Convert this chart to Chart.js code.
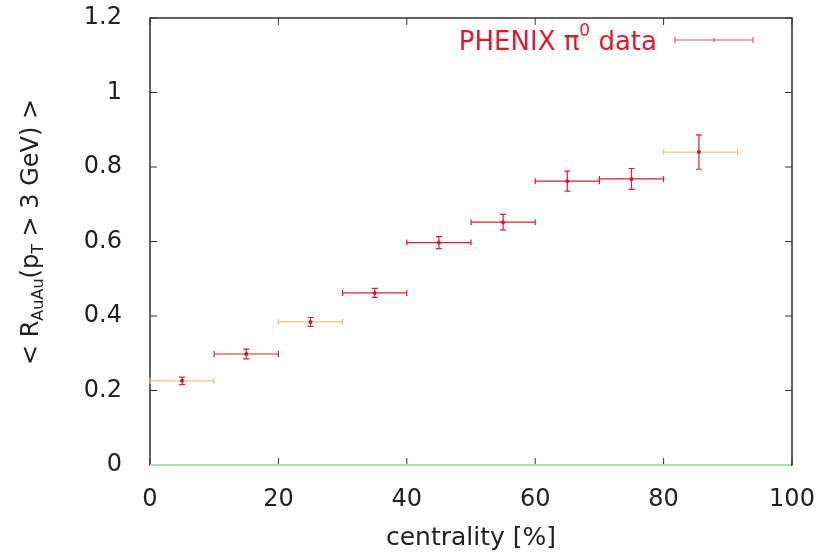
<!DOCTYPE html>
<html>
<head>
<meta charset="utf-8">
<script src="https://cdn.jsdelivr.net/npm/chart.js@4"></script>
<style>
  html, body { margin: 0; padding: 0; background: #fff; }
  #wrap { width: 820px; height: 555px; }
</style>
</head>
<body>
<div id="wrap"><canvas id="myChart" width="820" height="555"></canvas></div>
<script>
// centrality bins [%] and PHENIX pi0 <R_AuAu(pT > 3 GeV)>
const centrality = [5, 15, 25, 35, 45, 55, 65, 75, 85.5];
const binLow = [0, 10, 20, 30, 40, 50, 60, 70, 80];
const binHigh = [10, 20, 30, 40, 50, 60, 70, 80, 91.5];
const raa = [0.226, 0.298, 0.384, 0.462, 0.597, 0.652, 0.762, 0.768, 0.840];
const raaErr = [0.010, 0.013, 0.012, 0.012, 0.016, 0.021, 0.027, 0.028, 0.046];
const xTicks = [0, 20, 40, 60, 80, 100];
const yTicks = [0, 0.2, 0.4, 0.6, 0.8, 1, 1.2];

const FONT = "'DejaVu Sans', sans-serif";
const red = 'rgb(222, 30, 50)';
// horizontal bar colours (some bins look paler in the picture)
const hColors = ['rgb(245,190,140)', red, 'rgb(245,190,120)', red, red, red, red, red, 'rgb(245,195,130)'];

const points = centrality.map(function (c, i) {
  return { x: c, y: raa[i], xMin: binLow[i], xMax: binHigh[i], yMin: raa[i] - raaErr[i], yMax: raa[i] + raaErr[i] };
});

// error bars, frame, inner ticks, zero line
const framePlugin = {
  id: 'frame',
  beforeDatasetsDraw(chart) {
    const ctx = chart.ctx, xs = chart.scales.x, ys = chart.scales.y;
    const a = chart.chartArea;
    ctx.save();
    // frame
    ctx.strokeStyle = '#333';
    ctx.lineWidth = 1.5;
    ctx.strokeRect(a.left, a.top, a.right - a.left, a.bottom - a.top);
    // inner ticks
    ctx.lineWidth = 1;
    xTicks.forEach(function (v) {
      const px = xs.getPixelForValue(v);
      ctx.beginPath();
      ctx.moveTo(px, a.bottom); ctx.lineTo(px, a.bottom - 7);
      ctx.moveTo(px, a.top); ctx.lineTo(px, a.top + 7);
      ctx.stroke();
    });
    yTicks.forEach(function (v) {
      const py = ys.getPixelForValue(v);
      ctx.beginPath();
      ctx.moveTo(a.left, py); ctx.lineTo(a.left + 7, py);
      ctx.moveTo(a.right, py); ctx.lineTo(a.right - 7, py);
      ctx.stroke();
    });
    // zero line
    ctx.strokeStyle = 'rgb(170, 225, 170)';
    ctx.lineWidth = 2;
    ctx.beginPath();
    ctx.moveTo(a.left, ys.getPixelForValue(0));
    ctx.lineTo(a.right - 1, ys.getPixelForValue(0));
    ctx.stroke();

    // error bars
    ctx.lineWidth = 1.2;
    points.forEach(function (p, i) {
      const x0 = xs.getPixelForValue(p.xMin), x1 = xs.getPixelForValue(p.xMax);
      const xc = xs.getPixelForValue(p.x), yc = ys.getPixelForValue(p.y);
      const y0 = ys.getPixelForValue(p.yMin), y1 = ys.getPixelForValue(p.yMax);
      ctx.strokeStyle = hColors[i];
      ctx.beginPath();
      ctx.moveTo(x0, yc); ctx.lineTo(x1, yc);
      ctx.moveTo(x0, yc - 3); ctx.lineTo(x0, yc + 3);
      ctx.moveTo(x1, yc - 3); ctx.lineTo(x1, yc + 3);
      ctx.stroke();
      ctx.strokeStyle = red;
      ctx.beginPath();
      ctx.moveTo(xc, y0); ctx.lineTo(xc, y1);
      ctx.moveTo(xc - 3, y0); ctx.lineTo(xc + 3, y0);
      ctx.moveTo(xc - 3, y1); ctx.lineTo(xc + 3, y1);
      ctx.stroke();
    });
    ctx.restore();
  },
  afterDraw(chart) {
    const ctx = chart.ctx;
    ctx.save();
    // y axis title with subscripts
    const big = '24px ' + FONT, small = '16px ' + FONT;
    const parts = [
      ['< R', big, 0], ['AuAu', small, 7], ['(p', big, 0], ['T', small, 7], [' > 3 GeV) >', big, 0]
    ];
    let total = 0;
    parts.forEach(function (s) { ctx.font = s[1]; total += ctx.measureText(s[0]).width; });
    ctx.translate(32, 232);
    ctx.rotate(-Math.PI / 2);
    ctx.fillStyle = '#222';
    ctx.textBaseline = 'middle';
    let cx = -total / 2;
    parts.forEach(function (s) {
      ctx.font = s[1];
      ctx.fillText(s[0], cx, s[2]);
      cx += ctx.measureText(s[0]).width;
    });
    ctx.restore();

    // legend
    ctx.save();
    ctx.fillStyle = 'rgb(225, 25, 45)';
    ctx.textBaseline = 'middle';
    const t1 = 'PHENIX \u03c0', t3 = ' data';
    ctx.font = '26px ' + FONT;
    const w1 = ctx.measureText(t1).width, w3 = ctx.measureText(t3).width;
    ctx.font = '17px ' + FONT;
    const w2 = ctx.measureText('0').width;
    let lx = 657 - (w1 + w2 + w3);
    const ly = 43;
    ctx.font = '26px ' + FONT;
    ctx.fillText(t1, lx, ly); lx += w1;
    ctx.font = '17px ' + FONT;
    ctx.fillText('0', lx, ly - 11); lx += w2;
    ctx.font = '26px ' + FONT;
    ctx.fillText(t3, lx, ly);
    ctx.strokeStyle = 'rgb(205, 90, 115)';
    ctx.lineWidth = 1.2;
    ctx.beginPath();
    ctx.moveTo(675, 40); ctx.lineTo(753, 40);
    ctx.moveTo(675, 37); ctx.lineTo(675, 43);
    ctx.moveTo(753, 37); ctx.lineTo(753, 43);
    ctx.moveTo(714, 38); ctx.lineTo(714, 42);
    ctx.stroke();
    ctx.restore();
  }
};

const ctx = document.getElementById('myChart');
new Chart(ctx, {
  type: 'scatter',
  data: {
    datasets: [{
      label: 'PHENIX \u03c0\u2070 data',
      data: points,
      pointRadius: 2,
      pointBackgroundColor: 'rgb(190, 30, 50)',
      pointBorderWidth: 0
    }]
  },
  options: {
    responsive: false,
    animation: false,
    layout: { padding: { left: 0, top: 18, right: 28, bottom: 0 } },
    plugins: { legend: { display: false }, tooltip: { enabled: false } },
    scales: {
      x: {
        type: 'linear', min: 0, max: 100,
        afterFit: function (s) { s.height = 90; s.paddingLeft = 0; s.paddingRight = 0; },
        afterBuildTicks: function (s) { s.ticks = xTicks.map(function (v) { return { value: v }; }); },
        grid: { display: false },
        border: { display: false },
        ticks: { color: '#222', padding: 12, font: { family: FONT, size: 24 }, maxRotation: 0 },
        title: { display: true, text: 'centrality [%]', color: '#222', padding: { top: 0, bottom: 2 }, font: { family: FONT, size: 25 } }
      },
      y: {
        type: 'linear', min: 0, max: 1.2,
        afterFit: function (s) { s.width = 150; s.paddingTop = 0; s.paddingBottom = 0; },
        afterBuildTicks: function (s) { s.ticks = yTicks.map(function (v) { return { value: v }; }); },
        grid: { display: false },
        border: { display: false },
        ticks: {
          color: '#222', padding: 20, font: { family: FONT, size: 24 },
          callback: function (v) { return String(Math.round(v * 10) / 10); }
        }
      }
    }
  },
  plugins: [framePlugin]
});
</script>
</body>
</html>
